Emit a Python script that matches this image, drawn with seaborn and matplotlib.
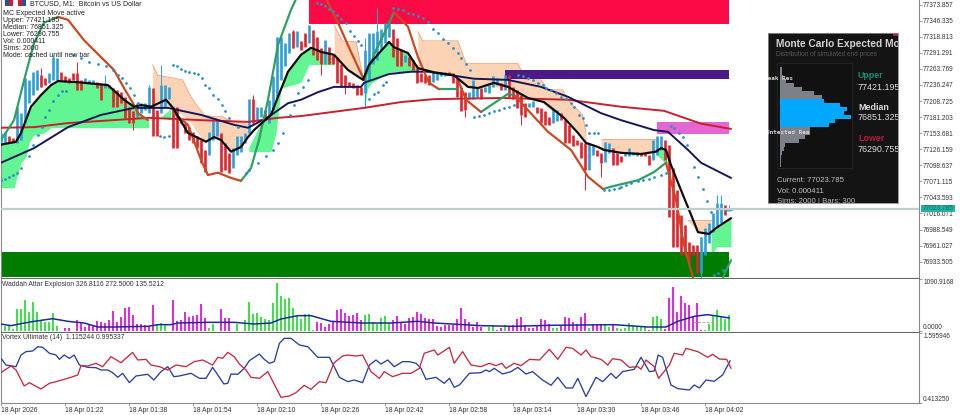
import numpy as np
import pandas as pd
import seaborn as sns
import matplotlib.pyplot as plt
from matplotlib.patches import Rectangle

# x axis is minutes after 01:06, one candle per minute
bar_open = [77136,77136,77148,77145,77136,77142,77171,77205,77219,77228,77253,77248,77239,77245,77245,77259,77251,77248,77256,77256,
            77245,77239,77239,77238,77242,77239,77231,77236,77231,77228,77225,77216,77199,77191,77182,77188,77193,77188,77231,77193,
            77188,77199,77213,77199,77199,77176,77171,77165,77156,77148,77142,77125,77116,77142,77148,77154,77136,77119,77094,77116,
            77122,77136,77154,77213,77176,77182,77193,77171,77193,77216,77245,77268,77291,77328,77302,77311,77325,77308,77330,77319,
            77299,77273,77302,77288,77285,77273,77253,77242,77239,77236,77233,77222,77245,77273,77279,77296,77308,77319,77333,77316,
            77296,77276,77285,77279,77265,77256,77253,77253,77242,77245,77251,77252,77259,77256,77248,77233,77225,77213,77213,77216,
            77231,77225,77222,77232,77236,77239,77228,77253,77233,77228,77219,77205,77198,77199,77199,77196,77191,77182,77171,77174,
            77188,77176,77168,77151,77142,77139,77136,77091,77116,77125,77119,77105,77119,77128,77119,77114,77114,77114,77116,77114,
            77120,77119,77116,77108,77116,77125,77142,77134,77094,77056,77014,76996,76967,76962,76962,76914,76945,76966,76984,76993,
            77000,77030,77020]
bar_close = [77154,77156,77136,77136,77199,77188,77248,77245,77259,77262,77233,77236,77256,77285,77282,77245,77242,77239,77245,77228,
             77228,77248,77245,77245,77231,77211,77239,77231,77199,77199,77205,77179,77171,77171,77205,77205,77205,77233,77148,77148,
             77236,77236,77233,77128,77128,77171,77154,77142,77136,77128,77102,77088,77156,77174,77174,77088,77091,77085,77128,77148,
             77148,77154,77213,77171,77199,77199,77182,77211,77251,77319,77319,77308,77325,77299,77328,77296,77302,77339,77288,77279,
             77273,77313,77273,77273,77239,77233,77232,77232,77231,77219,77219,77296,77325,77325,77328,77333,77342,77342,77285,77268,
             77268,77288,77268,77262,77239,77242,77239,77236,77259,77259,77259,77259,77253,77239,77216,77191,77193,77225,77245,77233,
             77213,77232,77236,77252,77248,77228,77253,77216,77213,77196,77185,77182,77205,77208,77188,77171,77168,77168,77196,77193,
             77176,77136,77136,77131,77134,77111,77091,77136,77131,77114,77102,77139,77136,77099,77099,77105,77122,77128,77122,77122,
             77115,77114,77099,77142,77148,77148,77108,77010,76959,76959,76945,76945,76931,76945,76914,76976,76991,77000,77017,77034,
             77034,77014,77024]
wick_bar = [10, 13, 19, 26, 33, 37, 40, 63, 73, 80, 86, 91, 91, 94, 116, 130, 146, 150, 175, 179, 180, 182]
wick_price = [77265, 77288, 77276, 77253, 77159, 77236, 77271, 77219, 77331, 77253, 77221, 77316, 77196, 77368, 77182, 77168, 77056, 77079, 76906, 77048, 77048, 77030]

ema_x = [0,3.75,5,7.5,10,12.5,14.25,19.25,26.75,30.75,33.25,35,37.5,41.25,43,46.75,51.25,53.25,55,57.5,60,61.75,63.25,67.5,69.25,71.75,75,77.5,80,83.25,
         86.75,90.5,92,97,98.25,101.75,104.25,108.25,113.25,116.75,119.25,123.25,126.75,131.75,135.75,140.75,144.25,146.25,149.25,150.75,155,160,163.75,165,166.25,167.5,170,172.5,174.25,177,178.75,182.5]
ema_y = [77134,77139,77154,77199,77219,77236,77243,77241,77236,77211,77199,77202,77199,77211,77197,77154,77139,77147,77142,77122,77130,77147,77159,77185,77216,77259,77288,77300,77293,77288,
         77262,77245,77271,77310,77301,77291,77265,77258,77253,77233,77231,77240,77233,77214,77207,77180,77154,77137,77130,77125,77120,77118,77122,77128,77125,77099,77056,77014,76984,76981,76991,77008]
navy_x = [0,8.25,16.75,25,33.25,41.75,50,58.25,61.75,66.75,71.75,75,79.25,83.25,90,90.75,97,102.5,106.75,118.25,126.75,135,141.75,150,155,163.25,166.75,171.75,175,182.5]
navy_y = [77103,77128,77164,77185,77197,77197,77185,77168,77163,77181,77205,77211,77224,77233,77233,77240,77255,77259,77259,77247,77245,77233,77216,77188,77176,77159,77156,77125,77103,77077]
red_x = [0,8.25,16.75,37,50,61.75,69.25,75,90.75,100,108.25,125,141.75,155,165.75,175,182.5]
red_y = [77163,77164,77171,77180,77176,77173,77180,77183,77197,77207,77212,77214,77211,77199,77192,77170,77161]

trend_up = [([0,3.25,6.25,8.25,10.75,14.25], [77142,77176,77257,77308,77343,77353]),
            ([60,62.5,64.5,66.75,69.25,72.5,74.25], [77072,77094,77142,77211,77305,77365,77391]),
            ([90.75,93.75,96.25,98.25], [77245,77296,77331,77361]),
            ([109.5,113.75], [77229,77229]),
            ([120,123.25,126.75,128.25], [77190,77205,77221,77219]),
            ([150.5,152.5,159.25,163.25,166.25], [77058,77062,77073,77087,77103]),
            ([180.5,182.5], [76907,76936])]
trend_down = [([14.25,16.75,20.75,25,28.25,30.75,33,34.25,36.75], [77353,77348,77313,77284,77262,77231,77205,77188,77176]),
              ([43.25,46.75,50,51.75,54.25,57.5,60], [77188,77168,77108,77082,77086,77077,77072]),
              ([80.75,84.25,87.5,90.75], [77391,77343,77293,77245]),
              ([98.25,101.75,104.25,107,109.5], [77361,77336,77284,77240,77229]),
              ([114.25,116.25,120], [77245,77211,77190]),
              ([128.25,131.75,136.75,142.5,146.75,150.5], [77219,77193,77156,77125,77079,77058]),
              ([166.25,168.75,170.75,173], [77103,77039,76962,76906])]

# (minutes, upper, lower)
green_clouds = [([0,3.25,4.25,5,6.25,7,8.25,10.75,12.5,14.25,19.25,26.75,30.75,33.25,34.25,37],
                 [77134,77139,77146,77154,77176,77190,77205,77224,77236,77243,77241,77236,77211,77199,77190,77173],
                 [77060,77060,77085,77103,77113,77137,77151,77154,77163,77163,77163,77163,77163,77163,77163,77163]),
                ([40,42.5], [77182,77196], [77182,77176]),
                ([62,65,67.5,68.75,70,71.75,75,77,80,83.25],
                 [77130,77171,77185,77216,77231,77259,77288,77300,77293,77284],
                 [77122,77122,77122,77154,77231,77234,77241,77271,77271,77271]),
                ([90.8,91.7,92.5,95,97.1,98.3,101.7,104.2],
                 [77245,77262,77273,77293,77311,77302,77291,77265],
                 [77196,77231,77239,77250,77258,77259,77259,77259]),
                ([164,166.5], [77125,77125], [77116,77099]),
                ([177.5,179,182.5], [76983,76991,77008], [76945,76959,76959])]
peach_clouds = [([37.9,39.2,43.3,45.4,47.5,49.2,50.8,53.3,55.4,57.5,60,61.7],
                 [77271,77253,77248,77245,77216,77199,77185,77182,77182,77174,77171,77168],
                 [77199,77199,77196,77185,77171,77154,77139,77148,77142,77122,77131,77148]),
                ([83.3,85.4,88.75,90.4,90.8], [77339,77311,77311,77253,77245], [77285,77271,77253,77245,77245]),
                ([104.2,105.4,114.2,116.25,126.7,129.2,130],
                 [77328,77312,77312,77273,77273,77273,77262],
                 [77265,77262,77253,77233,77233,77219,77216]),
                ([127.1,131.7,135,136.7,140.4,141.7,145.4,146.25],
                 [77251,77245,77245,77228,77228,77211,77185,77154],
                 [77231,77213,77208,77196,77182,77174,77148,77136]),
                ([150,155,160,164], [77144,77144,77144,77144], [77125,77120,77118,77122]),
                ([171.5,174.25,177,177.5], [77005,77005,77005,77005], [77005,76984,76981,76983])]

psar_x = [0,1,2,3,4,5,7,8,9.2,10.2,11,12,13,14.2,15.2,16.2,
          17.9,20,22,24.2,26.2,28,29.2,30.2,31.2,32.2,33.3,34.3,39.8,40.8,42,
          42.9,44,45,46,47,48.2,49.2,50.2,51.1,52.1,53.1,54.2,55.2,56,57.1,59.2,
          61.3,62,64.2,66.2,68,69.2,70.4,72.3,73.3,74.3,75.4,76.7,
          79,80,81,82,83,84,85,86.25,87.25,88.2,89.2,90,92.1,93.2,94.2,95.4,96.3,
          97.9,99.2,100.4,101.7,102.9,104.2,105.4,106.7,107.9,109.2,110.4,111.7,112.9,114.2,115,116.25,117.25,
          118.3,119.6,120.8,122.1,123.3,124.6,125.8,127.1,128.3,
          129.2,130.4,131.7,132.9,134.2,135.4,136.25,137.5,138.75,140,141.25,142.5,143.3,144.6,145.4,146.25,147.1,148.3,149.3,
          150.8,152,153.3,154.5,155,156.25,157.5,159.2,160.4,162,163.3,165,166.25,
          167.5,168.3,169.4,170.4,171.4,173.3,174.3,175.4,176.4,177.5,181.25,182.5,178.3,179.3,180.4]
psar_y = [77074,77076,77079,77082,77086,77094,77114,77134,77151,77165,77181,77194,77208,77219,77226,77226,
          77288,77282,77276,77273,77268,77262,77253,77248,77239,77231,77219,77205,77148,77147,77149,
          77271,77268,77264,77261,77259,77256,77255,77248,77236,77231,77219,77213,77202,77191,77179,77165,
          77085,77091,77102,77114,77125,77136,77154,77185,77202,77222,77233,77245,
          77377,77375,77372,77366,77363,77357,77349,77342,77329,77320,77311,77305,77213,77220,77225,77236,77242,
          77369,77366,77364,77360,77358,77355,77351,77345,77333,77325,77315,77308,77299,77291,77282,77273,77262,
          77182,77183,77185,77188,77191,77193,77196,77199,77202,
          77254,77251,77248,77245,77239,77236,77231,77227,77222,77216,77212,77205,77199,77185,77179,77168,77154,77154,77154,
          77056,77057,77058,77060,77062,77065,77068,77071,77074,77075,77078,77082,77085,
          77166,77163,77154,77147,77134,77096,77079,77058,77037,77019,77022,77023,76911,76914,76919]

# zones: name, first minute, top, bottom, colour
zone_names = ['supply', 'purple', 'pink', 'demand']
zone_start = [77, 126, 164, 0]
zone_end = [182, 182, 182, 182]
zone_top = [77382, 77262, 77173, 76950]
zone_bottom = [77341, 77247, 77152, 76907]
zone_colors = ['#fb0a46', '#4b1a82', '#e466d2', '#007d00']

price_ticks = [77373.857,77346.335,77318.813,77291.291,77263.769,77236.247,77208.725,77181.203,77153.681,
               77126.159,77098.637,77071.115,77043.593,77016.071,76988.549,76961.027,76933.505]
current_price = 77023.785

wae_hist = [350,105,105,35,455,455,651,406,609,406,210,196,196,371,105,0,70,70,0,231,175,84,154,105,210,189,175,231,420,196,294,490,504,336,154,140,126,105,539,140,175,140,0,
            644,210,231,406,294,315,336,574,280,56,154,0,455,280,280,0,154,0,231,609,364,385,294,259,231,595,1001,735,679,700,490,315,245,350,350,21,189,175,84,140,210,434,455,385,315,336,385,231,
            336,350,196,154,266,315,175,231,315,175,154,266,294,406,350,280,245,245,105,84,126,126,126,245,476,245,196,84,196,84,0,84,126,21,70,126,84,126,245,294,126,56,56,126,259,231,140,56,70,105,
            294,266,189,140,301,385,56,126,126,140,126,84,126,56,35,56,175,105,84,105,105,21,294,315,245,35,700,931,406,735,595,546,294,595,21,21,154,336,434,315,245,329]
wae_trend = ('G'*15 + 'M'*24 + 'G'*3 + 'M'*10 + 'G'*2 + 'M'*5 + 'G'*18 + 'G'*2 + 'M'*12 + 'G'*7 + 'M'*23
             + 'G'*3 + 'M'*2 + 'G' + 'M'*11 + 'G'*2 + 'M'*7 + 'G' + 'M'*3 + 'G'*2 + 'M' + 'G'*8 + 'M' + 'G'*3 + 'M'*10 + 'G'*7)
wae_signal_x = [0,2.5,5,8.3,12.9,16.7,20.8,24.2,28.3,36.7,39.2,42.5,44.2,51.7,58.3,63.3,67.5,70,74.2,77.5,82.5,90,97.5,104.2,108.3,120,
                128.3,136.7,153.3,161.7,166.25,169.2,173.3,176.7,182.1]
wae_signal_y = [147,112,154,203,259,203,168,84,84,98,133,133,168,182,182,147,168,252,322,322,203,168,168,203,168,112,
                98,119,133,84,84,203,308,343,273]
wae_dead_x = [173, 179]
wae_dead_y = [190, 190]

vortex_plus_x = [0,1.25,3.75,5,6.25,7.9,9.2,10.4,12.1,13.75,14.6,15.8,17.1,18.3,19.6,21.7,23.75,25,26.7,27.9,29.2,30.4,32.1,33.75,36.7,38.2,40,41.7,43.2,44.6,47.5,49.6,51.25,52.9,54.2,55.7,56.7,57.5,59.2,60.8,
                 62.1,64.6,65.8,67.1,68.3,69.6,70.8,72.5,74.6,76.7,79.2,82.1,83.3,84.6,86.7,88.3,90.4,92.1,93.75,95,96.7,98.3,100.4,102.1,103.75,105,106.25,108.75,110.8,112.1,113.3,114.6,117.1,120,
                 121.25,122.1,123.3,125.4,127.5,129.2,131.25,132.9,135.4,137.5,139.2,141.25,142.9,144.2,146.25,148.75,150.4,152.5,153.75,155.4,158.3,160,162.1,163.3,164.3,165.4,167.5,169.2,172.1,173.3,174.6,176.25,178.3,180.4,182.3]
vortex_plus_y = [1.168,1.055,1.027,1.224,1.281,1.292,1.365,1.354,1.253,1.224,1.151,1.224,1.168,1.224,1.055,1.016,1.010,.971,.971,.926,.847,.915,.757,.870,.898,.802,.943,1.027,.858,.870,.915,.830,.830,1.016,.887,.735,.746,.903,.898,.999,
                 1.129,1.241,1.151,1.084,1.112,1.421,1.506,1.506,1.393,1.365,1.185,1.185,1.027,.847,.774,.802,.757,1.055,1.140,1.072,1.140,1.027,1.112,1.112,1.084,.999,.813,.847,.746,.830,.678,.718,.915,.926,
                 .971,.943,.999,.903,.943,1.016,.903,.943,.802,.712,.847,.667,.667,.830,.521,.847,.774,.915,.830,.943,.982,1.185,.943,.954,1.224,1.185,.718,.656,.633,.718,.667,.802,.780,.887,1.129]
vortex_minus_x = [0,2.5,3.75,5.8,7.1,10,12.1,13.75,17.5,19.2,20,21.7,23.75,25.4,27.5,30,32.9,34.2,36.25,37.5,39.6,41.7,43.75,46.25,48.3,50.4,52.9,54.2,55.4,56.7,58.3,59.6,61.25,62.5,64.6,66.7,70,72.1,73.75,75.8,77.5,79.6,81.25,
                  83.3,85.4,86.7,88.75,90.4,92.5,94.6,95.8,97.9,100.4,102.5,104.6,105.8,108.3,109.2,112.1,113.3,115.4,117.5,120,
                  122.1,123.75,125.2,126.25,128.3,130,132.1,134.6,137.1,139.2,141.25,142.9,145,146.25,147.5,150,151.7,152.9,155,157.1,159.2,160,161.25,163.3,164.4,167.1,168.3,170.4,171.25,174.2,176.7,177.9,179.6,181.4,182.5]
vortex_minus_y = [.926,1.039,.971,.701,.757,.650,.746,.774,.847,.887,1.044,1.039,1.084,1.027,1.196,1.095,1.269,1.140,1.151,1.055,1.027,.971,1.055,1.027,1.112,1.140,1.055,1.185,1.168,1.269,1.196,1.072,.971,.847,.830,.943,.509,.532,.588,.712,.644,.774,.757,
                  1.095,1.207,1.224,1.207,1.224,.943,.830,.943,.858,.915,.915,.999,1.253,1.309,1.224,1.354,1.084,1.281,1.055,1.027,
                  1.084,1.044,1.084,.999,1.084,1.044,1.151,1.140,1.320,1.151,1.354,1.337,1.224,1.309,1.196,1.151,1.055,1.162,1.140,1.016,1.027,.982,1.140,1.027,.830,1.055,1.253,1.224,1.337,1.281,1.185,1.236,1.156,1.151,.999]

time_ticks = [0,16,32,48,64,80,96,112,128,144,160,176]
time_labels = ['18 Apr 2026','18 Apr 01:22','18 Apr 01:38','18 Apr 01:54','18 Apr 02:10','18 Apr 02:26',
               '18 Apr 02:42','18 Apr 02:58','18 Apr 03:14','18 Apr 03:30','18 Apr 03:46','18 Apr 04:02']

info_lines = ['MC Expected Move active','Upper: 77421.195','Median: 76851.325','Lower: 76290.755','Vol: 0.000411','Sims: 2000','Mode: cached until new bar']

hist_counts = [7,8,10,20,42,67,102,127,134,182,202,192,214,167,147,92,92,77,57,17,12,7,5,3,3]
hist_band = ['out']*8 + ['mid']*7 + ['out']*10

sns.set_theme(style='white')
plt.rcParams['font.family'] = ['Liberation Sans', 'DejaVu Sans']
W, H = 960, 415


def box(x0, y0, x1, y1):
    return [x0 / W, 1 - y1 / H, (x1 - x0) / W, (y1 - y0) / H]


def line(ax, x, y, color, lw, z=4, **kw):
    sns.lineplot(x=x, y=y, ax=ax, color=color, lw=lw, zorder=z, estimator=None, sort=False, errorbar=None, **kw)


fig = plt.figure(figsize=(9.6, 4.15), dpi=100)
ax = fig.add_axes(box(1, 0, 919, 278))
wae = fig.add_axes(box(1, 279, 919, 332))
vor = fig.add_axes(box(1, 333, 919, 403))

# main pane
for i in range(4):
    ax.fill_between([zone_start[i], zone_end[i]], zone_bottom[i], zone_top[i], color=zone_colors[i], lw=0, zorder=2)
for xs, top, bot in green_clouds:
    ax.fill_between(xs, bot, top, color='#62f591', lw=0, zorder=1)
for xs, top, bot in peach_clouds:
    ax.fill_between(xs, bot, top, color='#fdd3b5', lw=0, zorder=1)
    ax.plot(xs, top, color='#e9a584', lw=0.6, zorder=1.2)

bars = pd.DataFrame({'minute': np.arange(len(bar_open)), 'open': bar_open, 'close': bar_close})
bars['up'] = bars['close'] >= bars['open']
bar_colors = np.where(bars['up'], '#2a9fdc', '#e8202b')
ax.vlines(bars['minute'], bars['open'], bars['close'], colors=bar_colors, lw=1.9, zorder=3)
ax.vlines(wick_bar, [bar_close[b] for b in wick_bar], wick_price,
          colors=[bar_colors[b] for b in wick_bar], lw=0.7, zorder=3)

line(ax, red_x, red_y, '#c8202f', 1.4)
line(ax, navy_x, navy_y, '#15165c', 1.4)
line(ax, ema_x, ema_y, '#0d0d0d', 1.6, z=4.5)
for xs, ys in trend_up:
    line(ax, xs, ys, '#2f9f62', 1.6)
for xs, ys in trend_down:
    line(ax, xs, ys, '#c94a22', 1.6)
sns.scatterplot(x=psar_x, y=psar_y, ax=ax, color='#2f8fc0', s=4, linewidth=0, zorder=5)
ax.axhline(current_price, color='#bcd0d0', lw=1.6, zorder=6)

ax.set_ylim(76905.5, 77381.9)
ax.yaxis.tick_right()
ax.set_yticks(price_ticks)
ax.set_yticklabels([f'{p:.3f}' for p in price_ticks])

# waddah attar
wdf = pd.DataFrame({'minute': np.arange(len(wae_hist)), 'value': wae_hist, 'trend': list(wae_trend[:len(wae_hist)])})
sns.barplot(data=wdf, x='minute', y='value', hue='trend', native_scale=True, dodge=False, width=0.62, linewidth=0,
            saturation=1, palette={'G': '#3fe04a', 'M': '#e02ce0'}, legend=False, ax=wae, zorder=2)
line(wae, wae_signal_x, wae_signal_y, '#1d2a9c', 1.1)
line(wae, wae_dead_x, wae_dead_y, '#c49aa0', 0.6, linestyle='--')
wae.set_ylim(-21, 1092)
wae.set_xlabel('')
wae.set_ylabel('')
wae.yaxis.tick_right()
wae.set_yticks([0, 1090.9168])
wae.set_yticklabels(['0.0000', '1090.9168'])
wae.get_yticklabels()[0].set_va('bottom')
wae.get_yticklabels()[1].set_va('top')

# vortex
line(vor, vortex_plus_x, vortex_plus_y, '#2a3f9e', 0.95)
line(vor, vortex_minus_x, vortex_minus_y, '#c22c3e', 0.95)
vor.set_ylim(0.41325, 1.595946)
vor.yaxis.tick_right()
vor.set_yticks([0.41325, 1.595946])
vor.set_yticklabels(['0.413250', '1.595946'])
vor.get_yticklabels()[0].set_va('bottom')
vor.get_yticklabels()[1].set_va('top')
vor.set_xticks(time_ticks)
vor.set_xticklabels(time_labels, ha='left')

for a in (ax, wae, vor):
    a.set_xlim(0, 229.5)
    a.tick_params(axis='y', right=True, length=2, width=0.5, color='#777777', labelsize=4.7, labelcolor='#333333', pad=1)
    for s in a.spines.values():
        s.set_color('#8a8a8a')
        s.set_linewidth(0.8)
    a.spines['top'].set_visible(False)
ax.set_xticks([])
wae.set_xticks([])
vor.tick_params(axis='x', bottom=True, length=2, width=0.5, color='#777777', labelsize=4.9, labelcolor='#333333', pad=1)
ax.spines['bottom'].set_color('#666666')
wae.spines['bottom'].set_color('#666666')

# header text
fig.text(30 / W, 1 - 4 / H, 'BTCUSD, M1:  Bitcoin vs US Dollar', fontsize=5, color='#222222', va='center')
for i, s in enumerate(info_lines):
    fig.text(3 / W, 1 - (13.5 + i * 7.05) / H, s, fontsize=5, color='#222222', va='center', zorder=10)
fig.text(2 / W, 1 - 284 / H, 'Waddah Attar Explosion 326.8116 272.5000 135.5212', fontsize=4.9, color='#333333', va='center')
fig.text(2 / W, 1 - 337.5 / H, 'Vortex Ultimate (14)  1.115244 0.995337', fontsize=4.9, color='#333333', va='center')
for x0, c0, c1 in [(5, '#264f9e', '#c8202f'), (18, '#c8202f', '#264f9e')]:
    fig.add_artist(Rectangle((x0 / W, 1 - 6 / H), 4 / W, 6 / H, transform=fig.transFigure, color=c0, lw=0))
    fig.add_artist(Rectangle(((x0 + 4) / W, 1 - 6 / H), 4 / W, 6 / H, transform=fig.transFigure, color=c1, lw=0))

# current price tag
tag = fig.add_axes(box(921, 205, 955, 212))
tag.set_facecolor('#22b3a2')
tag.set_xticks([])
tag.set_yticks([])
for s in tag.spines.values():
    s.set_visible(False)
tag.text(0.5, 0.5, f'{current_price:.3f}', transform=tag.transAxes, ha='center', va='center', fontsize=4.7, color='#0d6f66')

# monte carlo panel, units are pixels inside the panel
panel = fig.add_axes(box(768, 33, 898, 203), zorder=5)
panel.set_facecolor('#141414')
panel.set_xlim(0, 130)
panel.set_ylim(170, 0)
panel.set_xticks([])
panel.set_yticks([])
for s in panel.spines.values():
    s.set_color('#8c8c8c')
    s.set_linewidth(0.6)
panel.add_patch(Rectangle((125, 0), 5, 3, color='#c8143c', lw=0))

hist = fig.add_axes(box(777, 63, 852, 168), zorder=6)
hist.set_facecolor('#111111')
rows = [str(i) for i in range(len(hist_counts))]
sns.barplot(x=hist_counts, y=rows, hue=hist_band, orient='h', dodge=False, width=1.0, linewidth=0, saturation=1,
            palette={'out': '#7d8088', 'mid': '#00a8ff'}, legend=False, ax=hist)
hist.set_xlim(-8, 217)
hist.set_ylim(24.67, -1.58)
hist.set_xticks([])
hist.set_yticks([])
hist.set_xlabel('')
hist.set_ylabel('')
for s in hist.spines.values():
    s.set_color('#2a2a2a')
    s.set_linewidth(0.5)

over = fig.add_axes(box(768, 33, 898, 203), zorder=7)
over.patch.set_alpha(0)
over.set_xlim(0, 130)
over.set_ylim(170, 0)
over.set_xticks([])
over.set_yticks([])
for s in over.spines.values():
    s.set_visible(False)


def label(x, y, s, size, color, weight='normal', ha='left', family=None):
    over.text(x, y, s, fontsize=size, color=color, fontweight=weight, ha=ha, va='center', clip_on=True,
              family=family if family else ['Liberation Sans', 'DejaVu Sans'])


label(8, 11, 'Monte Carlo Expected Move', 7.3, '#d2d2d2', 'bold')
label(8, 21, 'Distribution of simulated end prices', 4.7, '#565656')
label(25, 46, 'Peak Res', 4.3, '#d5d5d5', 'bold', 'right', 'DejaVu Sans Mono')
label(42, 99.5, 'Untested Rea', 4.3, '#d5d5d5', 'bold', 'right', 'DejaVu Sans Mono')
label(90, 43, 'Upper', 6.4, '#0e8f6e', 'bold')
label(90, 54, '77421.195', 6.4, '#dcdcdc')
label(90, 74, 'Median', 6.4, '#dcdcdc', 'bold')
label(90, 85, '76851.325', 6.4, '#dcdcdc')
label(90, 105, 'Lower', 6.4, '#c0143c', 'bold')
label(90, 116, '76290.755', 6.4, '#dcdcdc')
label(9, 147, 'Current: 77023.785', 5.6, '#bdbdbd')
label(9, 158, 'Vol: 0.000411', 5.6, '#bdbdbd')
label(9, 168.5, 'Sims: 2000 | Bars: 300', 5.6, '#bdbdbd')

fig.savefig('out.png', dpi=100)
